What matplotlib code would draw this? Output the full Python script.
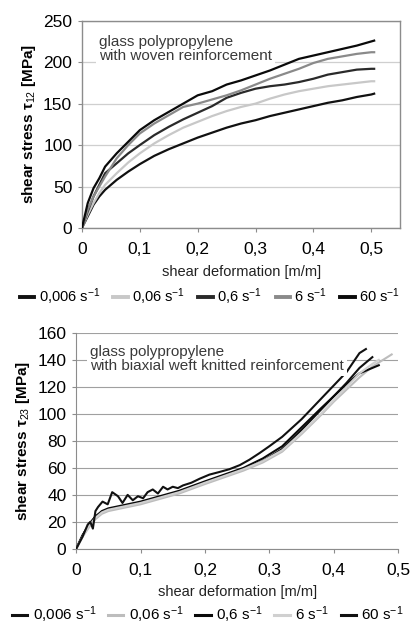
import matplotlib
matplotlib.use("Agg")
import matplotlib.pyplot as plt
from matplotlib.lines import Line2D
from matplotlib.ticker import FuncFormatter, MultipleLocator

plt.rcParams['font.family'] = ['Liberation Sans', 'DejaVu Sans']
plt.rcParams['mathtext.fontset'] = 'custom'
plt.rcParams['mathtext.rm'] = 'Liberation Sans'
plt.rcParams['mathtext.it'] = 'Liberation Sans:italic'
plt.rcParams['mathtext.bf'] = 'Liberation Sans:bold'

# ---------------- data ----------------
rate_labels = ["0,006 s$^{-1}$", "0,06 s$^{-1}$", "0,6 s$^{-1}$", "6 s$^{-1}$", "60 s$^{-1}$"]

# top chart: woven reinforcement (tau_12)
top_x = [0, 0.01, 0.02, 0.03, 0.04, 0.06, 0.08, 0.1, 0.125, 0.15, 0.175, 0.2, 0.225,
         0.25, 0.275, 0.3, 0.325, 0.35, 0.375, 0.4, 0.425, 0.45, 0.475, 0.5, 0.505]
top_006 = [0, 14, 28, 38, 46, 58, 68, 77, 87, 95, 102, 109, 115, 121, 126, 130, 135,
           139, 143, 147, 151, 154, 158, 161, 162]
top_06 = [0, 16, 30, 42, 52, 66, 79, 90, 102, 112, 121, 128, 135, 141, 146, 150, 156,
          161, 165, 168, 171, 173, 175, 177, 177]
top_6 = [0, 20, 38, 52, 66, 78, 90, 100, 112, 122, 131, 139, 147, 157, 163, 168, 171,
         173, 176, 180, 185, 188, 191, 192, 192]
top_60 = [0, 22, 38, 50, 62, 84, 100, 114, 126, 136, 146, 150, 155, 160, 166, 173, 180,
          186, 192, 199, 204, 207, 210, 212, 212]
top_600 = [0, 30, 48, 60, 74, 90, 104, 118, 130, 140, 150, 160, 165, 173, 178, 184, 190,
           197, 204, 208, 212, 216, 220, 225, 226]

# bottom chart: biaxial weft knitted reinforcement (tau_23)
bot_x_006 = [0, 0.01, 0.02, 0.03, 0.04, 0.05, 0.07, 0.1, 0.13, 0.16, 0.2, 0.23, 0.26,
             0.29, 0.32, 0.35, 0.38, 0.4, 0.42, 0.44, 0.46]
bot_y_006 = [0, 10, 18, 24, 27, 29, 31, 34, 38, 42, 49, 54, 59, 65, 74, 88, 103, 113,
             123, 134, 142]
bot_x_06 = [0, 0.01, 0.02, 0.03, 0.04, 0.05, 0.07, 0.1, 0.13, 0.16, 0.2, 0.23, 0.26,
            0.29, 0.32, 0.35, 0.38, 0.4, 0.42, 0.44, 0.46, 0.48, 0.49]
bot_y_06 = [0, 9, 16, 22, 26, 28, 30, 33, 37, 41, 48, 53, 58, 64, 72, 85, 99, 109, 118,
            127, 135, 141, 144]
bot_x_6 = [0, 0.01, 0.02, 0.03, 0.04, 0.05, 0.07, 0.1, 0.13, 0.16, 0.2, 0.23, 0.26,
           0.29, 0.32, 0.35, 0.38, 0.4, 0.42, 0.44, 0.46, 0.47]
bot_y_6 = [0, 10, 18, 24, 28, 30, 32, 35, 39, 43, 50, 55, 60, 67, 76, 90, 104, 113, 122,
           130, 134, 136]
bot_x_60 = [0, 0.01, 0.02, 0.03, 0.04, 0.05, 0.07, 0.1, 0.13, 0.16, 0.2, 0.23, 0.26,
            0.29, 0.32, 0.35, 0.38, 0.4, 0.42, 0.44, 0.46, 0.47]
bot_y_60 = [0, 9, 17, 23, 27, 29, 31, 34, 38, 42, 49, 54, 59, 65, 73, 86, 100, 110, 120,
            130, 137, 140]
bot_x_600 = [0, 0.01, 0.018, 0.022, 0.026, 0.03, 0.034, 0.041, 0.049, 0.056, 0.065,
             0.072, 0.08, 0.088, 0.096, 0.104, 0.111, 0.119, 0.127, 0.135, 0.142, 0.15,
             0.158, 0.166, 0.179, 0.192, 0.207, 0.223, 0.238, 0.254, 0.269, 0.285, 0.3,
             0.32, 0.35, 0.38, 0.4, 0.42, 0.44, 0.45]
bot_y_600 = [0, 9, 18, 20, 15, 28, 31, 35, 33, 42, 39, 34, 40, 36, 39, 37.5, 42, 44, 41,
             46, 44, 46, 45, 47, 49, 52, 55, 57, 59, 62, 66, 71, 76, 83, 96, 111, 121,
             131, 145, 148]

top_colors = ['#111111', '#c8c8c8', '#2a2a2a', '#8a8a8a', '#0a0a0a']
bot_colors = ['#111111', '#bdbdbd', '#0a0a0a', '#d0d0d0', '#111111']

x_ticks_top = [0, 0.1, 0.2, 0.3, 0.4, 0.5]
x_ticks_bot = [0, 0.1, 0.2, 0.3, 0.4, 0.5]

comma_fmt = FuncFormatter(lambda v, p: "0" if abs(v) < 1e-9 else ("%g" % v).replace(".", ","))

fig = plt.figure(figsize=(4.16, 6.28), dpi=100)

# ---------------- top chart ----------------
ax1 = fig.add_axes([0.197, 0.637, 0.765, 0.330])
top_series = [top_006, top_06, top_6, top_60, top_600]
for ys, c in zip(top_series, top_colors):
    ax1.plot(top_x, ys, color=c, lw=1.6, zorder=3)
ax1.set_xlim(0, 0.55)
ax1.set_ylim(0, 250)
ax1.set_xticks(x_ticks_top)
ax1.xaxis.set_major_formatter(comma_fmt)
ax1.yaxis.set_major_locator(MultipleLocator(50))
ax1.grid(axis='y', color='#cfcfcf', lw=0.9)
ax1.set_axisbelow(True)
for s in ax1.spines.values():
    s.set_color('#8c8c8c')
    s.set_linewidth(1.0)
ax1.tick_params(axis='both', labelsize=12.5, length=3, color='#8c8c8c', pad=4)
ax1.tick_params(axis='x', pad=7)
ax1.set_xlabel("shear deformation [m/m]", fontsize=10.5, color='#222222', labelpad=6)
ax1.set_ylabel("shear stress τ$_{12}$ [MPa]", fontsize=11, fontweight='bold', labelpad=4)
ax1.text(0.029, 233, "glass polypropylene\nwith woven reinforcement", fontsize=11,
         color='#3a3a3a', va='top', ha='left', linespacing=1.0, zorder=6,
         bbox=dict(boxstyle='square,pad=0.2', fc='white', ec='none'))

h_top = [Line2D([], [], color=c, lw=2.8) for c in top_colors]
fig.legend(h_top, rate_labels, ncol=5, loc='center', bbox_to_anchor=(0.505, 0.527),
           frameon=False, fontsize=10.5, handlelength=1.0, handletextpad=0.3,
           columnspacing=0.9, borderaxespad=0)

# ---------------- bottom chart ----------------
ax2 = fig.add_axes([0.183, 0.126, 0.774, 0.344])
bot_series = [(bot_x_006, bot_y_006), (bot_x_06, bot_y_06), (bot_x_6, bot_y_6),
              (bot_x_60, bot_y_60), (bot_x_600, bot_y_600)]
for (xs, ys), c in zip(bot_series, bot_colors):
    ax2.plot(xs, ys, color=c, lw=1.5, zorder=3)
ax2.set_xlim(0, 0.5)
ax2.set_ylim(0, 160)
ax2.set_xticks(x_ticks_bot)
ax2.xaxis.set_major_formatter(comma_fmt)
ax2.yaxis.set_major_locator(MultipleLocator(20))
ax2.grid(axis='y', color='#a0a0a0', lw=0.8)
ax2.set_axisbelow(True)
ax2.spines['top'].set_visible(False)
ax2.spines['right'].set_visible(False)
for s in ('left', 'bottom'):
    ax2.spines[s].set_color('#8c8c8c')
ax2.tick_params(axis='both', labelsize=12.5, length=3, color='#8c8c8c', pad=4)
ax2.tick_params(axis='x', pad=7)
ax2.set_xlabel("shear deformation [m/m]", fontsize=10.5, color='#222222', labelpad=5)
ax2.set_ylabel("shear stress τ$_{23}$ [MPa]", fontsize=11, fontweight='bold', labelpad=4)
ax2.text(0.022, 151, "glass polypropylene\nwith biaxial weft knitted reinforcement",
         fontsize=11, color='#3a3a3a', va='top', ha='left', linespacing=1.0, zorder=6,
         bbox=dict(boxstyle='square,pad=0.2', fc='white', ec='none'))

h_bot = [Line2D([], [], color=c, lw=2.2) for c in bot_colors]
fig.legend(h_bot, rate_labels, ncol=5, loc='center', bbox_to_anchor=(0.5, 0.021),
           frameon=False, fontsize=11, handlelength=1.0, handletextpad=0.35,
           columnspacing=0.75, borderaxespad=0)

fig.savefig("out.png", dpi=100)
